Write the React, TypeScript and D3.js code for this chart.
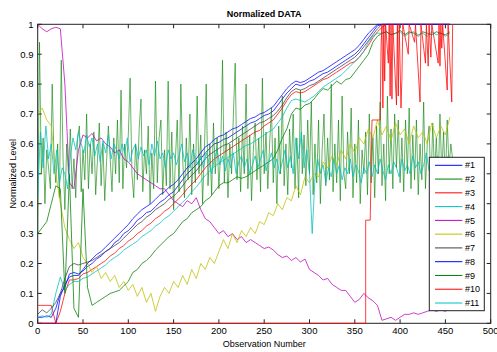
import React from 'react';
import * as d3 from 'd3';

// observation axis ticks and level ticks
const xTicks = [0, 50, 100, 150, 200, 250, 300, 350, 400, 450, 500];
const yTicks = [0, 0.1, 0.2, 0.3, 0.4, 0.5, 0.6, 0.7, 0.8, 0.9, 1];
const seriesNames = ['#1', '#2', '#3', '#4', '#5', '#6', '#7', '#8', '#9', '#10', '#11'];
const seriesColors = ['#0000ff', '#008000', '#ff0000', '#00bfbf', '#bf00bf', '#bfbf00', '#404040', '#0000ff', '#008000', '#ff0000', '#00bfbf'];

// sampled every 5 observations (0..455)
const s1 = [
  0.02, 0.02, 0.025, 0.02, 0.05, 0.1, 0.12, 0.165, 0.17, 0.165,
  0.175, 0.19, 0.2, 0.215, 0.225, 0.24, 0.25, 0.27, 0.28, 0.3,
  0.31, 0.325, 0.345, 0.355, 0.37, 0.375, 0.39, 0.405, 0.415, 0.43,
  0.44, 0.46, 0.48, 0.5, 0.515, 0.53, 0.55, 0.57, 0.585, 0.6,
  0.605, 0.615, 0.62, 0.63, 0.64, 0.65, 0.66, 0.67, 0.675, 0.685,
  0.695, 0.7, 0.71, 0.73, 0.75, 0.77, 0.785, 0.8, 0.795, 0.8,
  0.81, 0.815, 0.825, 0.835, 0.84, 0.85, 0.86, 0.87, 0.88, 0.89,
  0.9, 0.915, 0.935, 0.955, 0.975, 0.995, 1, 1, 1, 1,
  1, 1, 1, 1, 1, 1, 1, 1, 1, 1,
  1, 1,
];

// sampled every 2 observations (0..458)
const s2 = [
  0.3, 0.94, 0.5, 0.62, 0.4, 0.58, 0.52, 0.45, 0.8, 0.55,
  0.47, 0.6, 0.42, 0.88, 0.55, 0.38, 0.6, 0.5, 0.65, 0.45,
  0.55, 0.42, 0.62, 0.66, 0.44, 0.58, 0.48, 0.7, 0.45, 0.6,
  0.5, 0.64, 0.43, 0.55, 0.67, 0.46, 0.6, 0.41, 0.54, 0.66,
  0.55, 0.44, 0.62, 0.5, 0.68, 0.47, 0.78, 0.45, 0.6, 0.52,
  0.63, 0.82, 0.5, 0.42, 0.6, 0.48, 0.65, 0.75, 0.44, 0.58,
  0.5, 0.66, 0.4, 0.57, 0.45, 0.81, 0.47, 0.62, 0.68, 0.43,
  0.58, 0.46, 0.81, 0.45, 0.64, 0.38, 0.55, 0.68, 0.44, 0.8,
  0.55, 0.42, 0.62, 0.48, 0.7, 0.43, 0.6, 0.47, 0.76, 0.5,
  0.63, 0.4, 0.58, 0.8, 0.46, 0.6, 0.43, 0.67, 0.5, 0.62,
  0.45, 0.58, 0.88, 0.47, 0.64, 0.42, 0.6, 0.5, 0.7, 0.87,
  0.48, 0.62, 0.44, 0.66, 0.5, 0.8, 0.45, 0.63, 0.41, 0.58,
  0.67, 0.48, 0.62, 0.44, 0.82, 0.5, 0.64, 0.45, 0.6, 0.72,
  0.47, 0.62, 0.4, 0.66, 0.5, 0.76, 0.46, 0.6, 0.43, 0.65,
  0.52, 0.7, 0.45, 0.62, 0.42, 0.78, 0.5, 0.63, 0.46, 0.68,
  0.5, 0.74, 0.43, 0.6, 0.47, 0.68, 0.4, 0.58, 0.7, 0.46,
  0.62, 0.48, 0.8, 0.44, 0.6, 0.47, 0.68, 0.41, 0.76, 0.5,
  0.45, 0.64, 0.5, 0.72, 0.42, 0.6, 0.47, 0.68, 0.4, 0.58,
  0.5, 0.64, 0.43, 0.7, 0.47, 0.62, 0.42, 0.66, 0.5, 0.74,
  0.46, 0.6, 0.41, 0.76, 0.5, 0.65, 0.45, 0.7, 0.52, 0.68,
  0.47, 0.62, 0.44, 0.68, 0.5, 0.72, 0.45, 0.63, 0.48, 0.68,
  0.43, 0.6, 0.48, 0.74, 0.45, 0.6, 0.66, 0.44, 0.67, 0.5,
  0.62, 0.46, 0.7, 0.5, 0.64, 0.47, 0.68, 0.52, 0.6, 0.55,
];

const s3 = [
  0.06, 0.06, 0.06, 0.06, 0.0, 0.04, 0.1, 0.145, 0.145, 0.15,
  0.165, 0.17, 0.18, 0.19, 0.2, 0.21, 0.225, 0.235, 0.25, 0.26,
  0.275, 0.285, 0.3, 0.31, 0.325, 0.335, 0.35, 0.36, 0.375, 0.385,
  0.4, 0.415, 0.43, 0.45, 0.465, 0.48, 0.5, 0.52, 0.535, 0.55,
  0.56, 0.57, 0.58, 0.59, 0.6, 0.61, 0.62, 0.63, 0.64, 0.645,
  0.66, 0.67, 0.68, 0.7, 0.72, 0.745, 0.765, 0.775, 0.77, 0.775,
  0.785, 0.795, 0.805, 0.815, 0.82, 0.83, 0.84, 0.85, 0.86, 0.87,
  0.875, 0.89, 0.91, 0.93, 0.955, 0.975, 0.99, 1, 1, 1,
  1, 1, 1, 1, 1, 1, 1, 1, 1, 1,
  1, 1,
];

const s4 = [
  0.02, 0.025, 0.02, 0.03, 0.1, 0.155, 0.11, 0.13, 0.14, 0.14,
  0.15, 0.155, 0.165, 0.175, 0.185, 0.195, 0.21, 0.22, 0.23, 0.245,
  0.255, 0.265, 0.275, 0.29, 0.3, 0.31, 0.325, 0.335, 0.35, 0.36,
  0.375, 0.39, 0.405, 0.42, 0.44, 0.455, 0.475, 0.495, 0.51, 0.525,
  0.535, 0.545, 0.555, 0.565, 0.575, 0.585, 0.595, 0.6, 0.61, 0.62,
  0.63, 0.64, 0.65, 0.67, 0.69, 0.72, 0.745, 0.75, 0.745, 0.74,
  0.75, 0.76, 0.775, 0.79, 0.8, 0.81, 0.82, 0.83, 0.845, 0.86,
  0.875, 0.89, 0.91, 0.94, 0.96, 0.97, 0.97, 0.975, 0.965, 0.97,
  0.975, 0.96, 0.97, 0.975, 0.965, 0.97, 0.96, 0.975, 0.965, 0.97,
  0.96, 0.97,
];

const s5 = [
  1.0, 0.985, 0.975, 0.985, 0.99, 0.985, 0.8, 0.47, 0.45, 0.58,
  0.63, 0.62, 0.635, 0.61, 0.62, 0.6, 0.59, 0.57, 0.58, 0.55,
  0.54, 0.52, 0.5, 0.49, 0.48, 0.47, 0.46, 0.45, 0.45, 0.43,
  0.41, 0.4, 0.39, 0.41, 0.4, 0.42, 0.38, 0.35, 0.34, 0.32,
  0.3, 0.31, 0.29, 0.3, 0.28, 0.29, 0.27, 0.28, 0.27, 0.26,
  0.25, 0.255, 0.245, 0.23, 0.22, 0.225, 0.21, 0.22, 0.205, 0.215,
  0.18, 0.17, 0.16, 0.145, 0.15, 0.13, 0.12, 0.11, 0.11, 0.09,
  0.07, 0.08, 0.1, 0.085, 0.075, 0.06, 0.01, 0.015, 0.02, 0.01,
  0.02, 0.03, 0.03, 0.035, 0.03, 0.035, 0.04, 0.045, 0.04, 0.045,
  0.04, 0.05,
];

const s6 = [
  0.7, 0.72, 0.68, 0.66, 0.5, 0.4, 0.32, 0.28, 0.25, 0.27,
  0.22, 0.2, 0.17, 0.19, 0.15, 0.17, 0.14, 0.16, 0.12, 0.14,
  0.11, 0.13, 0.09, 0.12, 0.07, 0.1, 0.04, 0.09, 0.12, 0.1,
  0.14, 0.12, 0.16, 0.13, 0.18, 0.15, 0.2, 0.18, 0.22, 0.2,
  0.24, 0.28, 0.25, 0.3, 0.27, 0.31, 0.29, 0.32, 0.3, 0.34,
  0.33, 0.37, 0.36, 0.4, 0.38, 0.42, 0.41, 0.46, 0.43, 0.49,
  0.47, 0.5, 0.49, 0.54, 0.52, 0.56, 0.53, 0.58, 0.55, 0.6,
  0.57, 0.62, 0.6, 0.65, 0.62, 0.68, 0.63, 0.66, 0.61, 0.67,
  0.63, 0.65, 0.6, 0.66, 0.62, 0.64, 0.6, 0.67, 0.62, 0.66,
  0.63, 0.69,
];

const s7 = [
  0.03, 0.045, 0.035, 0.05, 0.07, 0.1, 0.15, 0.19, 0.2, 0.195,
  0.2, 0.205, 0.21, 0.22, 0.23, 0.24, 0.25, 0.26, 0.27, 0.285,
  0.3, 0.315, 0.33, 0.34, 0.355, 0.365, 0.38, 0.39, 0.4, 0.415,
  0.425, 0.44, 0.46, 0.48, 0.495, 0.51, 0.53, 0.55, 0.565, 0.575,
  0.585, 0.595, 0.6, 0.61, 0.62, 0.63, 0.64, 0.65, 0.66, 0.67,
  0.675, 0.685, 0.695, 0.71, 0.73, 0.755, 0.775, 0.785, 0.78, 0.785,
  0.795, 0.8, 0.81, 0.82, 0.83, 0.84, 0.85, 0.86, 0.87, 0.88,
  0.89, 0.905, 0.925, 0.945, 0.965, 0.985, 1, 1, 1, 1,
  1, 1, 1, 1, 1, 1, 1, 1, 1, 1,
  1, 1,
];

const s8 = [
  0, 0, 0, 0, 0, 0.09, 0.13, 0.155, 0.16, 0.16,
  0.18, 0.2, 0.215, 0.23, 0.24, 0.255, 0.27, 0.285, 0.3, 0.315,
  0.33, 0.35, 0.365, 0.38, 0.39, 0.4, 0.415, 0.43, 0.44, 0.455,
  0.465, 0.48, 0.5, 0.52, 0.535, 0.55, 0.57, 0.59, 0.6, 0.615,
  0.625, 0.63, 0.64, 0.65, 0.655, 0.665, 0.675, 0.685, 0.69, 0.7,
  0.705, 0.715, 0.725, 0.745, 0.765, 0.785, 0.8, 0.81, 0.805, 0.81,
  0.82, 0.83, 0.84, 0.845, 0.855, 0.865, 0.875, 0.885, 0.895, 0.905,
  0.915, 0.93, 0.95, 0.97, 0.985, 1, 1, 1, 1, 1,
  1, 1, 1, 1, 1, 1, 1, 1, 1, 1,
  1, 1,
];

const s9 = [
  0.3, 0.32, 0.34, 0.4, 0.46, 0.45, 0.1, 0.5, 0.05, 0.02,
  0.45, 0.12, 0.06, 0.07, 0.08, 0.09, 0.1, 0.105, 0.11, 0.125,
  0.14, 0.17, 0.18, 0.2, 0.21, 0.225, 0.245, 0.26, 0.275, 0.29,
  0.3, 0.32, 0.34, 0.35, 0.37, 0.38, 0.39, 0.41, 0.42, 0.44,
  0.46, 0.47, 0.47, 0.48, 0.49, 0.485, 0.49, 0.5, 0.51, 0.52,
  0.53, 0.54, 0.55, 0.58, 0.62, 0.65, 0.7, 0.72, 0.715, 0.73,
  0.735, 0.75, 0.77, 0.785, 0.78, 0.795, 0.81, 0.8, 0.815, 0.82,
  0.84, 0.86, 0.88, 0.9, 0.94, 0.96, 0.97, 0.975, 0.965, 0.97,
  0.98, 0.965, 0.975, 0.97, 0.96, 0.975, 0.97, 0.965, 0.975, 0.97,
  0.965, 0.975,
];

// [observation, level] – flat at zero, then switches on
const s10: [number, number][] = [
  [0, 0], [362, 0], [362, 0.345], [367, 0.345], [369, 0.68], [378, 0.68], [379, 0.93], [380, 1],
  [381, 0.72], [382, 1], [383, 0.81], [384, 1], [387, 0.87], [388, 1], [389, 0.76], [390, 1],
  [391, 0.75], [392, 1], [396, 0.73], [397, 1], [398, 0.76], [399, 1], [401, 0.72], [402, 0.82],
  [403, 1], [409, 0.9], [410, 1], [416, 0.94], [417, 1], [422, 0.74], [423, 1], [428, 0.87],
  [429, 1], [431, 0.86], [432, 1], [434, 0.89], [435, 1], [442, 0.87], [443, 1], [444, 0.86],
  [445, 1], [446, 0.92], [447, 1], [452, 0.78], [453, 1], [457, 0.74], [458, 1],
];

// sampled every 3 observations (0..456)
const s11 = [
  0.42, 0.64, 0.52, 0.66, 0.55, 0.6, 0.5, 0.58, 0.47, 0.52,
  0.5, 0.45, 0.56, 0.62, 0.58, 0.64, 0.6, 0.57, 0.63, 0.59,
  0.62, 0.56, 0.6, 0.54, 0.61, 0.57, 0.63, 0.55, 0.6, 0.58,
  0.55, 0.6, 0.57, 0.62, 0.54, 0.58, 0.6, 0.55, 0.59, 0.56,
  0.58, 0.53, 0.6, 0.56, 0.61, 0.55, 0.57, 0.52, 0.58, 0.55,
  0.57, 0.53, 0.56, 0.6, 0.54, 0.57, 0.52, 0.58, 0.55, 0.53,
  0.56, 0.52, 0.57, 0.54, 0.5, 0.55, 0.58, 0.53, 0.56, 0.51,
  0.55, 0.52, 0.57, 0.5, 0.54, 0.56, 0.52, 0.55, 0.5, 0.53,
  0.56, 0.52, 0.55, 0.58, 0.51, 0.54, 0.57, 0.52, 0.55, 0.5,
  0.54, 0.58, 0.52, 0.56, 0.5, 0.62, 0.55, 0.64, 0.52, 0.58,
  0.5, 0.3, 0.48, 0.55, 0.5, 0.53, 0.47, 0.52, 0.49, 0.55,
  0.5, 0.53, 0.48, 0.52, 0.5, 0.55, 0.49, 0.53, 0.51, 0.47,
  0.52, 0.5, 0.54, 0.49, 0.53, 0.5, 0.55, 0.51, 0.48, 0.53,
  0.5, 0.54, 0.52, 0.49, 0.55, 0.51, 0.53, 0.5, 0.56, 0.52,
  0.54, 0.5, 0.53, 0.57, 0.51, 0.55, 0.52, 0.56, 0.53, 0.55,
  0.52, 0.56, 0.54,
];

const stepped = (vals: number[], step: number): [number, number][] => vals.map((v, i) => [i * step, v]);

const seriesData: [number, number][][] = [
  stepped(s1, 5), stepped(s2, 2), stepped(s3, 5), stepped(s4, 5), stepped(s5, 5), stepped(s6, 5),
  stepped(s7, 5), stepped(s8, 5), stepped(s9, 5), s10, stepped(s11, 3),
];

const W = 497;
const H = 352;
const plot = { left: 37.7, right: 490.7, top: 24.3, bottom: 323.3 };
const font = 'Liberation Sans, Arial, Helvetica, sans-serif';

export default function App() {
  const x = d3.scaleLinear().domain([0, 500]).range([plot.left, plot.right]);
  const y = d3.scaleLinear().domain([0, 1]).range([plot.bottom, plot.top]);
  const line = d3.line<[number, number]>().x(d => x(d[0])).y(d => y(d[1]));

  const legend = { x: 429.3, y: 157.3, w: 55, h: 153.4, row0: 165.3, rowStep: 13.77 };

  return (
    <svg width={W} height={H} style={{ position: 'absolute', left: 0, top: 0, background: '#fff' }}>
      <defs>
        <clipPath id="plotClip">
          <rect x={plot.left} y={plot.top - 1} width={plot.right - plot.left} height={plot.bottom - plot.top + 2} />
        </clipPath>
      </defs>
      <rect x={0} y={0} width={W} height={H} fill="#fff" />

      {/* axes box */}
      <rect x={plot.left} y={plot.top} width={plot.right - plot.left} height={plot.bottom - plot.top}
        fill="none" stroke="#222" strokeWidth={1} />

      {/* ticks inward on all four sides */}
      {xTicks.map(t => (
        <g key={'xt' + t}>
          <line x1={x(t)} x2={x(t)} y1={plot.bottom} y2={plot.bottom - 4} stroke="#222" />
          <line x1={x(t)} x2={x(t)} y1={plot.top} y2={plot.top + 4} stroke="#222" />
          <text x={x(t)} y={334} textAnchor="middle" fontFamily={font} fontSize={9.5}>{t}</text>
        </g>
      ))}
      {yTicks.map(t => (
        <g key={'yt' + t}>
          <line x1={plot.left} x2={plot.left + 4} y1={y(t)} y2={y(t)} stroke="#222" />
          <line x1={plot.right} x2={plot.right - 4} y1={y(t)} y2={y(t)} stroke="#222" />
          <text x={33.5} y={y(t)} dy="0.35em" textAnchor="end" fontFamily={font} fontSize={9.5}>{d3.format('~g')(t)}</text>
        </g>
      ))}

      {/* series */}
      <g clipPath="url(#plotClip)">
        {seriesData.map((d, i) => (
          <path key={seriesNames[i]} d={line(d) || ''} fill="none" stroke={seriesColors[i]}
            strokeWidth={i === 1 ? 0.8 : 0.9} strokeOpacity={i === 1 ? 0.75 : 0.85} strokeLinejoin="round" />
        ))}
      </g>

      {/* labels */}
      <text x={(plot.left + plot.right) / 2} y={16.5} textAnchor="middle" fontFamily={font} fontSize={9} fontWeight="bold">Normalized DATA</text>
      <text x={(plot.left + plot.right) / 2} y={347} textAnchor="middle" fontFamily={font} fontSize={9}>Observation Number</text>
      <text transform={`translate(15.5,${(plot.top + plot.bottom) / 2}) rotate(-90)`} textAnchor="middle" fontFamily={font} fontSize={9}>Normalized Level</text>

      {/* legend */}
      <rect x={legend.x} y={legend.y} width={legend.w} height={legend.h} fill="#fff" stroke="#222" strokeWidth={1} />
      {seriesNames.map((name, i) => {
        const ly = legend.row0 + i * legend.rowStep;
        return (
          <g key={'lg' + name}>
            <line x1={435} x2={462.3} y1={ly} y2={ly} stroke={seriesColors[i]} strokeWidth={1} />
            <text x={465} y={ly} dy="0.35em" fontFamily={font} fontSize={9}>{name}</text>
          </g>
        );
      })}
    </svg>
  );
}
